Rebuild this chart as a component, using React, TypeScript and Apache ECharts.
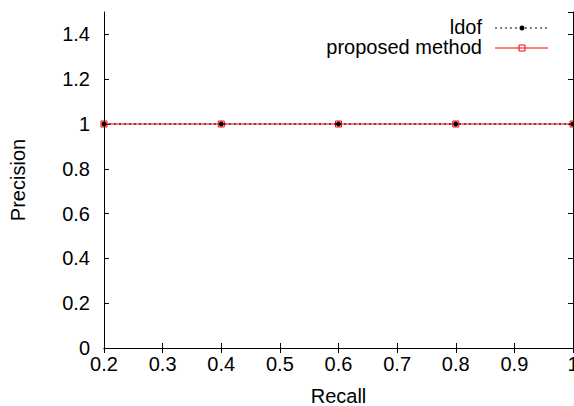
import React, { useEffect, useRef } from "react";
import * as echarts from "echarts";

const recall = [0.2, 0.4, 0.6, 0.8, 1.0];
const ldofPrecision = [1, 1, 1, 1, 1];
const proposedPrecision = [1, 1, 1, 1, 1];
const legendNames = ["ldof", "proposed method"];

const FONT = "Liberation Sans, Arial, sans-serif";
const FS = 20;

export default function App() {
  const ref = useRef<HTMLDivElement>(null);
  useEffect(() => {
    if (!ref.current) return;
    const chart = echarts.init(ref.current, undefined, { renderer: "svg" });
    const fmt = (v: number) => String(Math.round(v * 10) / 10);
    const axisCommon = {
      axisLine: { show: true, lineStyle: { color: "#000", width: 1 } },
      axisTick: { show: true, inside: true, length: 5, lineStyle: { color: "#000" } },
      splitLine: { show: false },
    };
    chart.setOption({
      animation: false,
      backgroundColor: "#fff",
      grid: {
        left: 104,
        right: 1,
        top: 12,
        bottom: 58,
        containLabel: false,
        outerBoundsMode: "none",
      },
      xAxis: [
        {
          type: "value",
          min: 0.2,
          max: 1,
          interval: 0.1,
          ...axisCommon,
          axisLabel: { color: "#000", fontFamily: FONT, fontSize: FS, margin: 6, formatter: fmt },
          name: "Recall",
          nameLocation: "middle",
          nameGap: 38,
          nameTextStyle: { color: "#000", fontFamily: FONT, fontSize: FS },
        },
        {
          type: "value",
          position: "top",
          min: 0.2,
          max: 1,
          interval: 0.1,
          ...axisCommon,
          axisLabel: { show: false },
        },
      ],
      yAxis: [
        {
          type: "value",
          min: 0,
          max: 1.5,
          interval: 0.2,
          ...axisCommon,
          axisLabel: {
            color: "#000",
            fontFamily: FONT,
            fontSize: FS,
            margin: 14,
            formatter: fmt,
            showMaxLabel: false,
          },
          name: "Precision",
          nameLocation: "middle",
          nameGap: 76,
          nameTextStyle: { color: "#000", fontFamily: FONT, fontSize: FS },
        },
        {
          type: "value",
          position: "right",
          min: 0,
          max: 1.5,
          interval: 0.2,
          ...axisCommon,
          axisLabel: { show: false },
        },
      ],
      series: [
        {
          name: legendNames[1],
          type: "line",
          data: recall.map((x, i) => [x, proposedPrecision[i]]),
          lineStyle: { color: "#ff0000", width: 1 },
          symbol: "rect",
          symbolSize: 6,
          itemStyle: { color: "transparent", borderColor: "#ff0000", borderWidth: 1 },
          z: 2,
        },
        {
          name: legendNames[0],
          type: "line",
          data: recall.map((x, i) => [x, ldofPrecision[i]]),
          lineStyle: { color: "#000", width: 1, type: [2, 3] },
          symbol: "circle",
          symbolSize: 5,
          itemStyle: { color: "#000" },
          z: 3,
        },
      ],
      graphic: [
        {
          type: "text",
          right: 574 - 482,
          top: 17,
          style: { text: legendNames[0], fill: "#000", font: `${FS}px ${FONT}`, textAlign: "right" },
        },
        {
          type: "line",
          shape: { x1: 495, y1: 28, x2: 548, y2: 28 },
          style: { stroke: "#000", lineWidth: 1, lineDash: [2, 3] },
        },
        { type: "circle", shape: { cx: 522, cy: 28, r: 2.5 }, style: { fill: "#000" } },
        {
          type: "text",
          right: 574 - 482,
          top: 37,
          style: { text: legendNames[1], fill: "#000", font: `${FS}px ${FONT}`, textAlign: "right" },
        },
        {
          type: "line",
          shape: { x1: 495, y1: 48, x2: 548, y2: 48 },
          style: { stroke: "#ff0000", lineWidth: 1 },
        },
        {
          type: "rect",
          shape: { x: 519, y: 45, width: 6, height: 6 },
          style: { fill: "transparent", stroke: "#ff0000", lineWidth: 1 },
        },
      ],
    });
    return () => chart.dispose();
  }, []);
  return (
    <div
      ref={ref}
      style={{ position: "fixed", left: 0, top: 0, width: 574, height: 406, background: "#fff" }}
    />
  );
}
